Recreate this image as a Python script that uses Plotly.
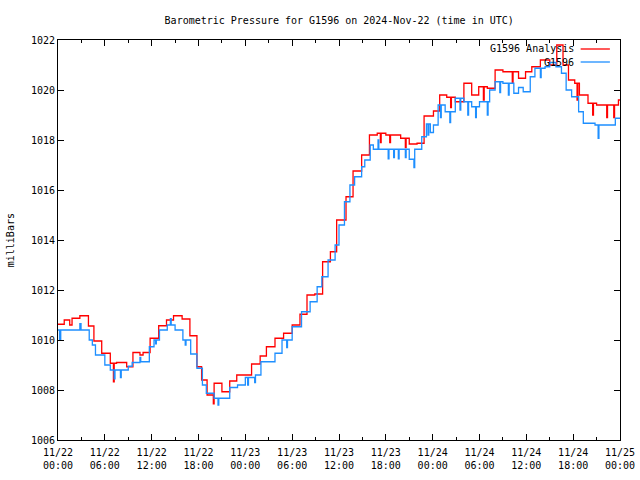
import pandas as pd
import plotly.graph_objects as go

start = pd.Timestamp("2024-11-22 00:00")

# G1596 Analysis (red) step breakpoints: hours since start, pressure (mb)
analysis_hours = [0.0, 0.8, 1.5, 1.8, 2.8, 3.9, 4.6, 5.6, 6.7, 7.1, 7.2, 7.5, 8.8, 9.6, 10.5, 10.9,
                  11.8, 12.9, 13.9, 14.8, 15.9, 16.9, 17.8, 18.4, 19.1, 19.9, 20.0, 21.0, 22.0, 22.9,
                  24.8, 25.9, 26.7, 27.8, 28.9, 30.0, 31.0, 31.9, 32.9, 33.9, 34.9, 35.7, 36.9,
                  37.8, 38.9, 39.9, 40.9, 41.3, 41.4, 42.0, 42.5, 42.6, 43.9, 44.5, 44.6, 45.0,
                  46.0, 46.9, 48.1, 48.9, 49.8, 50.3, 50.4, 50.9, 52.0, 53.0, 53.9, 54.5, 54.6,
                  55.0, 56.0, 57.0, 58.2, 58.3, 59.0, 59.9, 60.7, 61.8, 63.0, 63.9, 64.7, 65.4,
                  66.2, 66.5, 66.6, 66.8, 67.9, 68.5, 68.6, 69.0, 70.3, 70.4, 71.2, 71.3, 71.8, 72.0]
analysis_mb = [1010.63, 1010.8, 1010.6, 1010.87, 1010.97, 1010.56, 1009.96, 1009.47, 1009.07, 1008.33,
               1009.07, 1009.1, 1008.93, 1009.5, 1009.4, 1009.5,
               1010.07, 1010.57, 1010.8, 1010.97, 1010.84, 1010.17, 1008.93, 1008.4, 1007.8, 1007.45,
               1008.27, 1007.93, 1008.36, 1008.6,
               1009.04, 1009.36, 1009.73, 1010.07, 1010.27, 1010.6, 1011.03, 1011.8, 1011.84, 1013.13,
               1013.53, 1014.8, 1015.73,
               1016.76, 1017.4, 1018.2, 1018.27, 1017.9, 1018.27, 1018.2, 1017.9, 1018.2, 1018.07,
               1017.7, 1018.07, 1017.84,
               1017.87, 1018.96, 1019.16, 1019.8, 1019.71, 1019.3, 1019.71, 1019.53, 1020.27, 1019.8,
               1020.13, 1019.6, 1020.13,
               1020.07, 1020.8, 1020.73, 1020.3, 1020.73, 1020.47, 1020.73, 1020.93, 1021.2, 1021.0,
               1021.8, 1021.0, 1020.4,
               1020.27, 1019.6, 1020.27, 1019.8, 1019.47, 1019.0, 1019.47, 1019.4, 1018.9, 1019.4,
               1018.9, 1019.4, 1019.6, 1019.6]

# G1596 observations (blue)
obs_hours = [0.0, 0.2, 0.35, 2.8, 2.95, 4.0, 4.4, 4.8, 6.0, 6.7, 7.2, 7.3, 8.0, 8.1, 9.0, 9.5, 10.5,
             10.6, 11.7, 12.3, 12.5, 12.6, 13.0, 14.0, 14.4, 14.5, 15.0, 16.0, 16.3, 16.4, 17.0,
             17.8, 18.5, 19.0, 20.0, 20.5, 20.6, 22.0, 23.0, 24.0, 24.3, 24.4, 25.2, 25.3, 26.0,
             27.8, 28.7, 29.3, 29.4, 30.0, 31.2, 32.3, 33.2, 33.8, 34.6, 35.5, 36.0, 36.7, 37.4,
             38.0, 38.9, 39.3, 40.0, 40.4, 41.0, 41.1, 42.3, 42.4, 43.0, 43.1, 43.6, 43.7, 44.5,
             44.6, 45.0, 45.6, 45.7, 46.6, 47.2, 47.4, 47.5, 47.7, 48.1, 48.7, 49.0, 49.1, 49.6,
             50.2, 50.3, 50.9, 51.5, 51.6, 52.0, 52.5, 52.6, 53.0, 53.5, 53.6, 54.0, 55.0, 55.1,
             55.3, 56.0, 56.6, 56.7, 57.0, 57.7, 57.8, 58.4, 59.0, 59.6, 60.5, 61.1, 61.8, 61.9,
             62.4, 63.0, 63.8, 64.5, 65.1, 65.8, 66.7, 67.3, 68.8, 69.2, 69.3, 71.4, 72.0]
obs_mb = [1010.4, 1010.0, 1010.4, 1010.65, 1010.4, 1010.0, 1009.8, 1009.4, 1009.0, 1008.8, 1008.45,
          1008.8, 1008.5, 1008.8, 1008.95, 1009.1, 1009.3,
          1009.13, 1009.73, 1010.0, 1009.85, 1010.0, 1010.4, 1010.6, 1010.85, 1010.6, 1010.4,
          1010.0, 1009.8, 1010.0, 1009.44,
          1008.87, 1008.2, 1007.87, 1007.67, 1007.4, 1007.67, 1008.1, 1008.2, 1008.5, 1008.2,
          1008.5, 1008.3, 1008.6, 1009.13,
          1009.47, 1010.0, 1009.7, 1010.0, 1010.53, 1011.13, 1011.53, 1012.13, 1012.53, 1013.2,
          1013.8, 1014.6, 1015.53, 1016.2,
          1016.53, 1016.93, 1017.2, 1017.8, 1017.63, 1018.0, 1017.63, 1017.25, 1017.63, 1017.3,
          1017.63, 1017.25, 1017.63, 1017.3,
          1017.63, 1017.23, 1016.9, 1017.63, 1018.13, 1018.64, 1018.2, 1018.64, 1018.3, 1018.6,
          1019.4, 1018.9, 1019.4, 1019.13,
          1018.7, 1019.13, 1019.67, 1019.2, 1019.67, 1019.53, 1019.0, 1019.53, 1019.33, 1018.9,
          1019.33, 1019.53, 1019.0, 1019.53,
          1020.0, 1020.33, 1019.9, 1020.33, 1020.27, 1019.8, 1020.27, 1019.87, 1020.1, 1019.93,
          1020.53, 1020.87, 1020.5, 1020.87,
          1020.93, 1021.1, 1020.93, 1020.67, 1020.0, 1019.73, 1019.13, 1018.67, 1018.6, 1018.07,
          1018.6, 1018.87, 1018.87]

assert len(analysis_hours) == len(analysis_mb)
assert len(obs_hours) == len(obs_mb)

series_names = ["G1596 Analysis", "G1596"]
series_colors = ["#ff0000", "#1e8fff"]

def to_time(hours):
    return [start + pd.Timedelta(hours=h) for h in hours]

MONO = "DejaVu Sans Mono"
FS = 10

fig = go.Figure()
fig.add_trace(go.Scatter(x=to_time(analysis_hours), y=analysis_mb, mode="lines",
                         line=dict(color=series_colors[0], width=1.3, shape="hv"),
                         name=series_names[0], showlegend=False))
fig.add_trace(go.Scatter(x=to_time(obs_hours), y=obs_mb, mode="lines",
                         line=dict(color=series_colors[1], width=1.3, shape="hv"),
                         name=series_names[1], showlegend=False))

# gnuplot-style legend: text right-aligned, line sample to the right
legend_y = [0.9775, 0.945]
for name, color, yy in zip(series_names, series_colors, legend_y):
    fig.add_annotation(x=0.922, y=yy, xref="paper", yref="paper", text=name, showarrow=False,
                       xanchor="right", yanchor="middle", font=dict(family=MONO, size=FS, color="black"))
    fig.add_shape(type="line", xref="paper", yref="paper", x0=0.93, x1=0.982, y0=yy, y1=yy,
                  line=dict(color=color, width=1.3))

# y-axis label
fig.add_annotation(x=-0.085, y=0.5, xref="paper", yref="paper", text="milliBars", showarrow=False,
                   textangle=-90, xanchor="center", yanchor="middle",
                   font=dict(family=MONO, size=FS, color="black"))

fig.update_layout(
    width=640, height=480,
    margin=dict(l=58, r=20, t=40, b=40, autoexpand=False),
    paper_bgcolor="white", plot_bgcolor="white",
    font=dict(family=MONO, size=FS, color="black"),
    title=dict(text="Barometric Pressure for G1596 on 2024-Nov-22 (time in UTC)",
               x=0.53, xanchor="center", y=0.958, yanchor="middle",
               font=dict(family=MONO, size=FS, color="black")),
    showlegend=False,
)
fig.update_xaxes(
    type="date", automargin=False,
    range=[start, start + pd.Timedelta(hours=72)],
    dtick=6 * 3600 * 1000, tick0=start,
    tickformat="%m/%d<br>%H:%M",
    ticks="inside", ticklen=6, tickcolor="black",
    minor=dict(dtick=3 * 3600 * 1000, ticks="inside", ticklen=3, tickcolor="black"),
    showline=True, linecolor="black", linewidth=1, mirror="ticks",
    showgrid=False, zeroline=False,
    ticklabelstandoff=3,
    tickfont=dict(family=MONO, size=FS),
)
fig.update_yaxes(
    automargin=False,
    range=[1006, 1022], dtick=2, tick0=1006,
    ticks="inside", ticklen=6, tickcolor="black",
    showline=True, linecolor="black", linewidth=1, mirror="ticks",
    showgrid=False, zeroline=False,
    tickfont=dict(family=MONO, size=FS),
)

fig.write_html("out.html", config={"displayModeBar": False},
               post_script="document.body.style.margin='0';")
